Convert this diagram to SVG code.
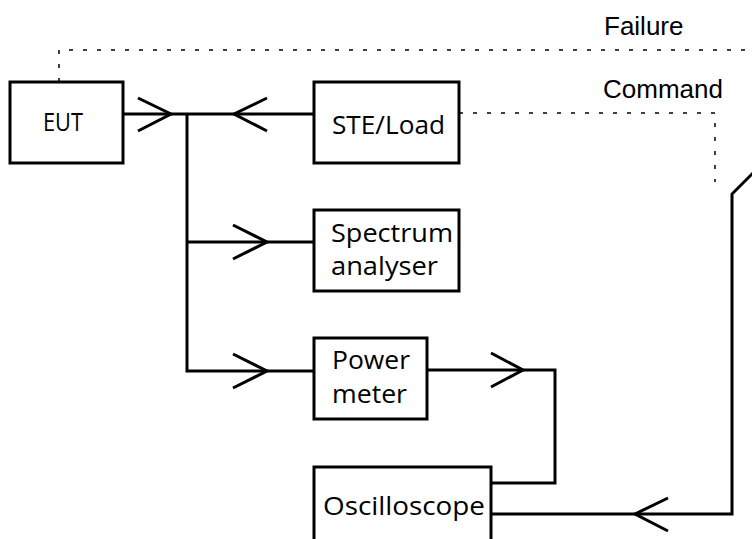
<svg xmlns="http://www.w3.org/2000/svg" width="752" height="539" viewBox="0 0 752 539">
<style>
.box{fill:#fff;stroke:#000;stroke-width:3}
.ln{fill:none;stroke:#000;stroke-width:3;stroke-linejoin:miter}
.dot{fill:none;stroke:#000;stroke-width:1.5;stroke-dasharray:4 10}
.bt{font-family:"Open Sans","DejaVu Sans",sans-serif;font-size:26px;fill:#000}
.lb{font-family:"Liberation Sans",Arial,sans-serif;font-size:26px;fill:#000}
</style>
<rect width="752" height="539" fill="#fff"/>
<g id="connectors">
<path class="dot" d="M59,82 V50 H752"/>
<path class="dot" d="M459,113 H715 V182"/>
<path class="ln" d="M123,114 H314"/>
<path class="ln" d="M138,98 L171,114 L138,131"/>
<path class="ln" d="M267,98 L234,114 L267,131"/>
<path class="ln" d="M187,114 V371 H314"/>
<path class="ln" d="M187,242 H314"/>
<path class="ln" d="M233,225 L267,242 L233,259"/>
<path class="ln" d="M233,354 L267,371 L233,388"/>
<path class="ln" d="M427,370 H555 V483 H491"/>
<path class="ln" d="M491,353 L523,370 L491,387"/>
<path class="ln" d="M491,514 H732 V194 L758,168"/>
<path class="ln" d="M668,498 L635,514 L668,531"/>
</g>
<g id="eut">
<rect class="box" x="10" y="82" width="113" height="81"/>
<text class="bt" x="43" y="131" textLength="40" lengthAdjust="spacingAndGlyphs">EUT</text>
</g>
<g id="ste-load">
<rect class="box" x="314" y="82" width="145" height="81"/>
<text class="bt" x="332" y="134" textLength="113" lengthAdjust="spacingAndGlyphs">STE/Load</text>
</g>
<g id="spectrum-analyser">
<rect class="box" x="314" y="210" width="145" height="81"/>
<text class="bt" x="331" y="242" textLength="122" lengthAdjust="spacingAndGlyphs">Spectrum</text>
<text class="bt" x="331" y="275" textLength="107" lengthAdjust="spacingAndGlyphs">analyser</text>
</g>
<g id="power-meter">
<rect class="box" x="314" y="338" width="113" height="81"/>
<text class="bt" x="332" y="369" font-size="25" textLength="78" lengthAdjust="spacingAndGlyphs">Power</text>
<text class="bt" x="332" y="403" font-size="25" textLength="75" lengthAdjust="spacingAndGlyphs">meter</text>
</g>
<g id="oscilloscope">
<rect class="box" x="314" y="467" width="177" height="90"/>
<text class="bt" x="323" y="515" textLength="162" lengthAdjust="spacingAndGlyphs">Oscilloscope</text>
</g>
<g id="labels">
<text class="lb" x="604" y="35">Failure</text>
<text class="lb" x="603" y="98">Command</text>
</g>
</svg>
